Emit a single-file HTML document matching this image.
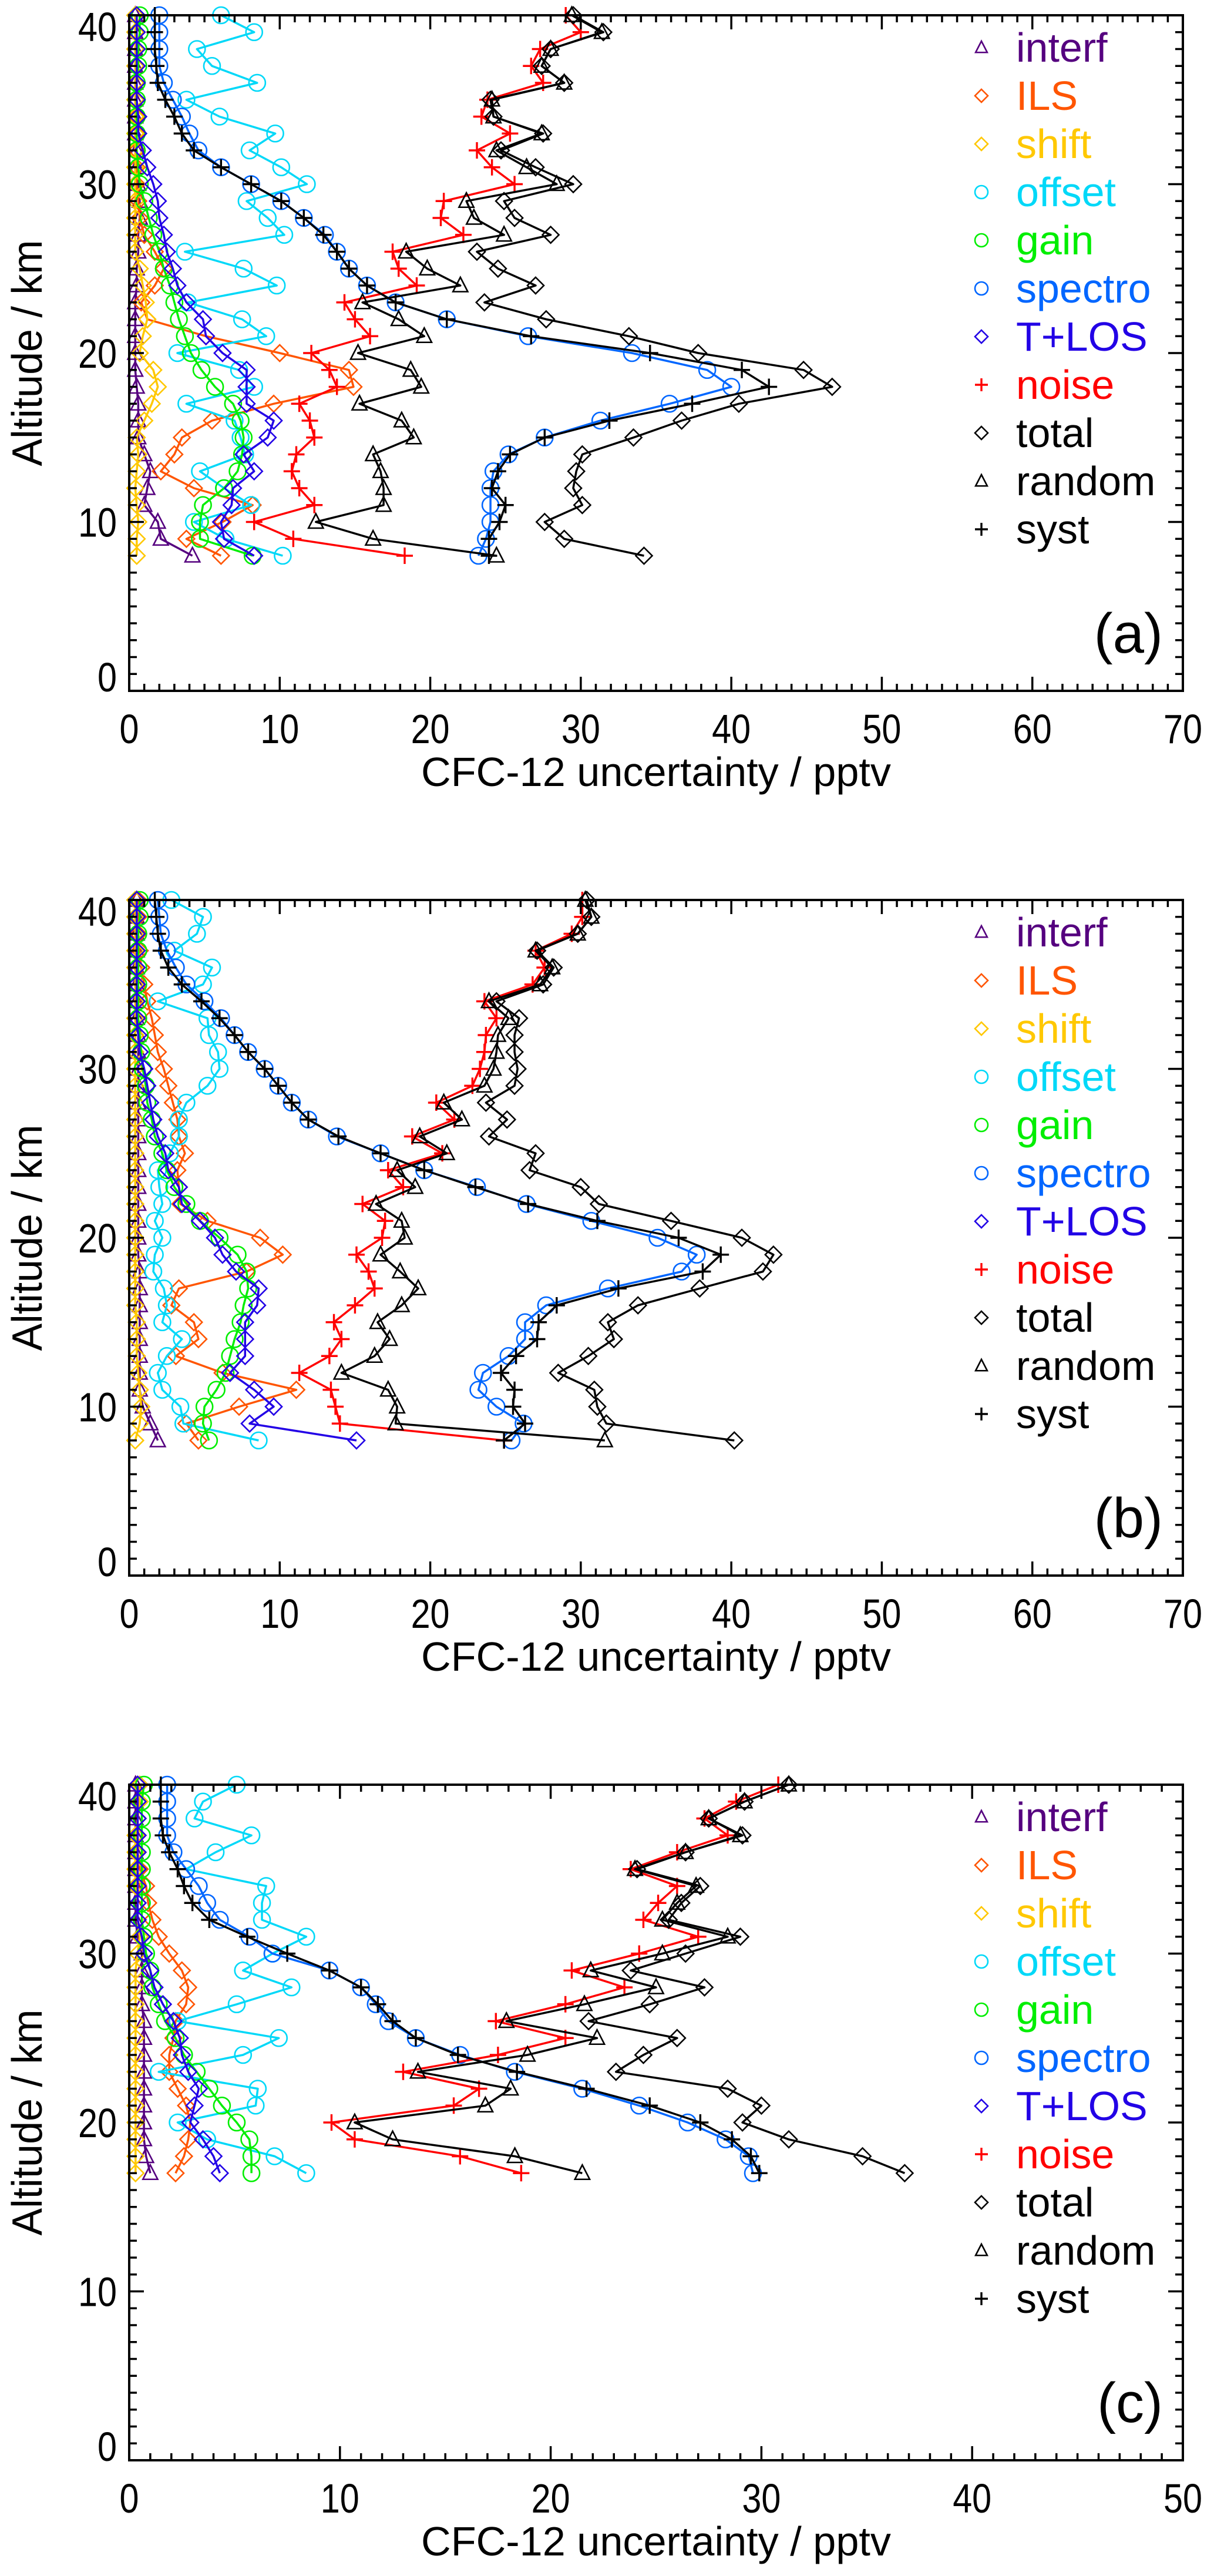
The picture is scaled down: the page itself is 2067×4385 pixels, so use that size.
<!DOCTYPE html>
<html><head><meta charset="utf-8"><title>CFC-12 uncertainty profiles</title>
<style>html,body{margin:0;padding:0;background:#fff}svg{display:block}text{font-family:"Liberation Sans",Arial,sans-serif}</style>
</head><body>
<svg id="fig" xmlns="http://www.w3.org/2000/svg" width="2067" height="4385" viewBox="0 0 2067 4385"></svg>
<script>
// ---------- data (altitude in km, uncertainty in pptv) ----------
const altA = [8,9,10,11,12,13,14,15,16,17,18,19,20,21,22,23,24,25,26,27,28,29,30,31,32,33,34,35,36,37,38,39,40];
const altB = [8,9,10,11,12,13,14,15,16,17,18,19,20,21,22,23,24,25,26,27,28,29,30,31,32,33,34,35,36,37,38,39,40];
const altC = [17,18,19,20,21,22,23,24,25,26,27,28,29,30,31,32,33,34,35,36,37,38,39,40];

const seriesNames = ["interf","ILS","shift","offset","gain","spectro","T+LOS","noise","total","random","syst"];
const xTicksA = [0,10,20,30,40,50,60,70];
const xTicksB = [0,10,20,30,40,50,60,70];
const xTicksC = [0,10,20,30,40,50];
const yTicks = [0,10,20,30,40];
const panelLabels = ["(a)","(b)","(c)"];

const a_interf = [4.2,2.1,1.9,1.0,1.2,1.4,1.0,0.6,0.6,0.6,0.5,0.4,0.4,0.4,0.4,0.4,0.5,0.5,0.6,0.6,0.7,0.7,0.6,0.5,0.5,0.4,0.4,0.4,0.4,0.4,0.4,0.4,0.4];
const a_ils = [6.1,3.8,6.2,8.2,4.3,2.1,3.0,3.5,5.5,9.6,14.9,14.6,10.0,5.1,1.2,0.8,1.7,2.3,1.7,1.0,0.7,0.6,0.5,0.5,0.5,0.5,0.5,0.5,0.5,0.5,0.5,0.5,0.5];
const a_shift = [0.5,0.5,0.6,0.5,0.4,0.5,0.6,0.5,1.0,1.5,1.9,1.6,0.7,0.9,1.2,1.1,0.9,0.7,0.4,0.4,0.4,0.4,0.4,0.4,0.4,0.4,0.4,0.4,0.4,0.4,0.4,0.4,0.4];
const a_offset = [10.2,6.4,4.3,8.1,6.3,4.7,7.7,7.4,7.0,3.8,8.3,7.3,3.2,9.1,7.5,3.9,9.8,7.6,3.7,10.3,9.2,7.8,11.8,10.1,8.0,9.7,6.0,3.8,8.5,5.5,4.5,8.3,6.1];
const a_gain = [8.2,4.7,4.7,4.9,6.3,7.2,7.5,7.6,7.4,6.9,5.7,4.8,4.1,3.7,3.3,3.0,2.7,2.3,2.0,1.6,1.3,1.0,0.7,0.6,0.5,0.5,0.5,0.5,0.5,0.6,0.6,0.7,0.7];
const a_spectro = [23.2,23.7,24.0,24.0,24.0,24.2,25.2,27.6,31.3,35.9,40.0,38.4,33.4,26.5,21.1,17.7,15.8,14.6,13.8,13.0,11.6,10.1,8.1,6.1,4.6,4.0,3.5,2.9,2.3,2.0,2.0,2.0,2.0];
const a_tlos = [8.3,6.3,6.1,6.8,6.9,8.3,7.6,9.2,9.6,7.8,7.8,7.8,6.2,5.1,4.9,3.8,3.2,2.9,2.5,2.3,2.0,1.9,1.6,1.2,0.9,0.6,0.6,0.5,0.5,0.5,0.5,0.5,0.5];
const a_noise = [18.3,10.9,8.3,12.3,11.3,10.8,11.1,12.3,12.0,11.3,13.8,13.3,12.1,16.0,15.0,14.3,19.1,17.9,17.5,22.2,20.7,20.9,25.6,24.1,23.1,25.3,23.4,23.8,27.5,26.7,27.3,30.0,29.0];
const a_total = [34.2,28.9,27.6,30.1,29.5,29.7,30.1,33.5,36.7,40.5,46.7,44.8,37.8,33.2,27.7,23.6,27.0,24.5,23.1,28.0,25.6,24.9,29.5,27.0,24.7,27.5,24.2,24.0,28.9,27.4,28.0,31.5,29.5];
const a_random = [24.4,16.2,12.4,16.9,16.9,16.7,16.2,18.9,18.1,15.3,19.4,18.7,15.2,19.6,17.9,15.5,22.0,19.8,18.4,24.9,22.9,22.4,28.4,26.4,24.4,27.4,24.2,24.1,28.9,27.4,28.0,31.4,29.4];
const a_syst = [23.9,23.9,24.6,25.0,24.1,24.5,25.3,27.6,31.9,37.4,42.5,40.7,34.6,26.7,21.1,17.7,15.8,14.6,13.8,12.9,11.6,10.1,8.1,6.1,4.3,3.5,3.0,2.4,1.9,1.8,1.7,1.7,1.7];

const b_interf = [1.9,1.4,0.9,0.7,0.7,0.7,0.7,0.7,0.7,0.7,0.7,0.6,0.6,0.6,0.6,0.6,0.6,0.6,0.6,0.6,0.6,0.6,0.6,0.6,0.6,0.5,0.5,0.5,0.5,0.5,0.5,0.5,0.5];
const b_ils = [4.6,3.8,7.3,11.1,6.2,3.1,4.6,4.3,2.8,3.3,7.8,10.2,8.7,5.2,3.4,3.3,3.2,3.7,3.3,3.2,2.9,2.6,2.3,1.9,1.7,1.5,1.2,1.0,0.8,0.7,0.6,0.6,0.6];
const b_shift = [0.4,0.7,0.8,0.7,0.6,0.5,0.5,0.5,0.4,0.4,0.4,0.4,0.4,0.4,0.4,0.4,0.4,0.4,0.4,0.4,0.4,0.4,0.4,0.4,0.4,0.4,0.4,0.4,0.4,0.4,0.4,0.4,0.4];
const b_offset = [8.6,3.6,3.4,2.2,1.9,2.5,3.5,2.2,2.5,2.3,1.6,1.7,2.2,1.7,2.2,2.0,1.9,2.7,3.3,3.3,3.8,5.2,6.0,5.9,5.3,5.2,1.9,4.9,5.5,3.0,4.5,4.9,2.8];
const b_gain = [5.3,4.9,5.0,5.8,6.4,6.7,7.0,7.4,7.6,7.9,7.8,7.2,6.0,4.7,3.8,3.0,2.5,2.2,1.7,1.5,1.2,1.1,0.9,0.8,0.7,0.6,0.6,0.6,0.6,0.6,0.6,0.7,0.7];
const b_spectro = [25.4,26.2,24.4,23.2,23.5,25.2,26.3,26.3,27.7,31.8,36.7,37.7,35.1,30.7,26.4,23.1,19.6,16.7,13.8,11.9,10.8,9.9,9.0,7.9,7.0,6.1,5.0,3.8,3.1,2.5,2.1,2.0,1.9];
const b_tlos = [15.1,8.0,9.6,8.3,6.7,7.7,7.7,7.7,8.5,8.6,7.1,6.2,5.7,4.7,3.5,3.3,2.6,2.4,1.9,1.6,1.4,1.2,1.0,0.7,0.6,0.5,0.5,0.5,0.5,0.5,0.5,0.5,0.5];
const b_noise = [24.9,14.0,13.7,13.4,11.3,13.3,14.1,13.6,15.0,16.3,15.9,15.1,16.8,17.0,15.5,18.2,17.2,20.8,18.8,21.6,20.4,22.8,23.3,23.6,23.7,24.4,23.6,26.8,27.6,27.0,29.4,30.1,30.1];
const b_total = [40.2,31.7,31.1,30.9,28.5,30.5,32.2,31.8,33.8,37.9,42.1,42.8,40.7,36.0,31.2,30.0,26.6,27.0,23.9,25.1,23.7,25.6,25.8,25.6,25.6,25.9,24.4,27.5,28.2,27.1,29.8,30.7,30.4];
const b_random = [31.6,17.7,17.8,17.2,14.1,16.3,17.3,16.5,18.1,19.2,18.0,16.7,18.3,18.1,16.4,19.0,17.8,21.1,19.3,22.1,20.9,23.6,24.2,24.4,24.5,25.2,23.9,27.3,28.1,27.0,29.8,30.7,30.3];
const b_syst = [24.9,26.3,25.5,25.6,24.7,25.7,27.1,27.2,28.4,32.5,38.1,39.3,36.5,31.1,26.5,23.0,19.6,16.7,13.9,11.9,10.8,9.9,9.0,7.9,7.0,6.0,4.8,3.5,2.6,2.1,1.9,1.8,1.7];

const c_interf = [1.0,0.8,0.7,0.7,0.7,0.7,0.7,0.7,0.7,0.7,0.6,0.6,0.6,0.6,0.4,0.3,0.3,0.3,0.3,0.3,0.3,0.3,0.3,0.3];
const c_ils = [2.2,2.6,2.8,2.9,2.7,2.3,1.9,1.9,2.1,2.2,2.7,2.8,2.5,1.9,1.4,1.1,0.9,0.8,0.5,0.4,0.4,0.4,0.4,0.4];
const c_shift = [0.3,0.3,0.3,0.3,0.3,0.3,0.3,0.3,0.3,0.3,0.3,0.3,0.3,0.4,0.5,0.4,0.4,0.3,0.3,0.3,0.3,0.4,0.5,0.5];
const c_offset = [8.4,6.9,3.7,2.3,6.0,6.1,1.4,5.4,7.1,2.3,5.1,7.7,5.4,6.8,8.4,6.3,6.3,6.5,2.7,4.1,5.8,3.1,3.5,5.1];
const c_gain = [5.8,5.8,5.7,5.1,4.4,3.8,3.2,2.6,2.2,1.7,1.4,1.1,1.0,0.8,0.7,0.6,0.6,0.6,0.6,0.6,0.6,0.6,0.6,0.7];
const c_spectro = [29.6,29.4,28.3,26.5,24.2,21.5,18.3,15.7,13.6,12.3,11.7,11.0,9.5,6.8,5.7,4.3,3.7,3.3,2.7,2.1,1.8,1.8,1.8,1.8];
const c_tlos = [4.3,4.0,3.5,2.9,3.1,3.3,2.8,2.5,2.4,2.1,1.6,1.2,1.0,0.7,0.6,0.4,0.4,0.4,0.4,0.4,0.4,0.4,0.4,0.4];
const c_noise = [18.6,15.7,10.7,9.6,15.4,16.6,13.0,17.5,20.7,17.4,20.7,23.5,21.0,24.2,27.0,24.4,25.1,26.0,23.8,26.0,28.4,27.3,28.8,30.8];
const c_total = [36.8,34.8,31.3,29.1,30.0,28.4,23.1,24.4,26.0,21.8,24.7,27.3,23.8,26.4,29.0,25.6,26.2,27.1,24.1,26.4,29.1,27.5,29.2,31.3];
const c_random = [21.5,18.3,12.5,10.7,16.9,18.1,13.7,18.9,22.2,17.9,21.6,25.0,21.9,25.3,28.4,25.3,26.0,26.9,24.0,26.4,29.0,27.5,29.2,31.3];
const c_syst = [29.9,29.5,28.6,27.1,24.7,21.7,18.4,15.6,13.6,12.5,11.8,11.0,9.5,7.5,5.6,3.8,3.0,2.6,2.3,1.9,1.6,1.5,1.5,1.5];

// ---------- styling ----------
const COLORS = {"interf":"#55007f","ILS":"#ff5500","shift":"#ffc800","offset":"#00d8f8","gain":"#00ee00","spectro":"#0066ff","T+LOS":"#2200e6","noise":"#ff0000","total":"#000","random":"#000","syst":"#000"};
const MARKERS = {"interf":"tri","ILS":"dia","shift":"dia","offset":"circ","gain":"circ","spectro":"circ","T+LOS":"dia","noise":"plus","total":"dia","random":"tri","syst":"plus"};
const NS = "http://www.w3.org/2000/svg";
const svg = document.getElementById("fig");

function mk(tag, attrs, parent) {
  const e = document.createElementNS(NS, tag);
  for (const k in attrs) e.setAttribute(k, attrs[k]);
  (parent || svg).appendChild(e);
  return e;
}
function slug(s){return s.toLowerCase().replace(/\+/g,"-").replace(/[^a-z0-9-]/g,"");}

function marker(g, type, cx, cy, col, sw, s) {
  let e;
  if (type === "circ") e = mk("circle", {cx:cx, cy:cy, r:s, fill:"none", stroke:col, "stroke-width":sw}, g);
  else if (type === "dia") e = mk("path", {d:`M${cx} ${cy-s}L${cx+s} ${cy}L${cx} ${cy+s}L${cx-s} ${cy}Z`, fill:"none", stroke:col, "stroke-width":sw}, g);
  else if (type === "tri") e = mk("path", {d:`M${cx} ${cy-s}L${cx+s*0.9} ${cy+s*0.75}L${cx-s*0.9} ${cy+s*0.75}Z`, fill:"none", stroke:col, "stroke-width":sw}, g);
  else e = mk("path", {d:`M${cx-s} ${cy}H${cx+s}M${cx} ${cy-s}V${cy+s}`, fill:"none", stroke:col, "stroke-width":sw+0.8}, g);
  return e;
}

function drawPanel(p) {
  const L = 220, R = 2014, T = p.top, B = p.top + 1150;
  const xs = v => L + (v - 0) / p.xmax * (R - L);
  const ys = v => B - v / 40 * (B - T);
  const g = mk("g", {});
  
  

  // series
  const sg = mk("g", {}, g);
  
  
  seriesNames.forEach((name, si) => {
    const vals = p.series[si];
    const col = COLORS[name];
    const pts = vals.map((v, i) => xs(v).toFixed(1) + "," + ys(p.alt[i]).toFixed(1)).join(" ");
    const line = mk("polyline", {points: pts, fill:"none", stroke:col, "stroke-width":3.5, "stroke-linejoin":"round"}, sg);
    
    
    const mg = mk("g", {}, sg);
    
    
    vals.forEach((v, i) => {
      const m = marker(mg, MARKERS[name], xs(v), ys(p.alt[i]), col, 2.6, 14);
      
      
    });
  });

  // frame
  const fr = mk("rect", {x:L, y:T, width:R-L, height:B-T, fill:"none", stroke:"#000", "stroke-width":4}, g);
  
  

  // ticks
  let d = "";
  for (let v = 0; v <= p.xmax; v++) {
    const x = xs(v), len = (v % 10 === 0) ? 24 : 12;
    d += `M${x} ${B}V${B-len}M${x} ${T}V${T+len}`;
  }
  for (let v = 0; v <= 40; v++) {
    const y = ys(v), len = (v % 10 === 0) ? 25 : 13;
    d += `M${L} ${y}H${L+len}M${R} ${y}H${R-len}`;
  }
  const tk = mk("path", {d:d, stroke:"#000", "stroke-width":3.5, fill:"none"}, g);
  
  

  p.xticks.forEach(v => {
    const s = String(v);
    const t = mk("text", {x:xs(v), y:B+89, "font-size":70, "text-anchor":"middle", textLength:33*s.length, lengthAdjust:"spacingAndGlyphs"}, g);
    t.textContent = s;
    
    
  });
  yTicks.forEach(v => {
    const s = String(v);
    const base = Math.min(Math.max(ys(v) + 25, T + 44), B + 1);
    const t = mk("text", {x:199, y:base, "font-size":70, "text-anchor":"end", textLength:33*s.length, lengthAdjust:"spacingAndGlyphs"}, g);
    t.textContent = s;
    
    
  });

  const xt = mk("text", {x:(L+R)/2, y:B+162, "font-size":70, "text-anchor":"middle", textLength:800, lengthAdjust:"spacingAndGlyphs"}, g);
  xt.textContent = "CFC-12 uncertainty / pptv";
  
  

  const cy = (T + B) / 2;
  const yt = mk("text", {x:0, y:0, "font-size":72, "text-anchor":"middle", transform:`translate(71 ${cy}) rotate(-90)`, textLength:385, lengthAdjust:"spacingAndGlyphs"}, g);
  yt.textContent = "Altitude / km";
  
  

  const pl = mk("text", {x:1980, y:T+1085, "font-size":96, "text-anchor":"end"}, g);
  pl.textContent = p.label;
  
  

  // legend
  const lg = mk("g", {}, g);
  
  
  seriesNames.forEach((name, i) => {
    const base = T + 79 + 82 * i;
    const eg = mk("g", {}, lg);
    
    
    marker(eg, MARKERS[name], 1671, base - 24, COLORS[name], 2.6, 11);
    const t = mk("text", {x:1730, y:base, "font-size":70, fill:COLORS[name], textLength: null}, eg);
    t.removeAttribute("textLength");
    t.textContent = name;
  });
}

drawPanel({id:"a", top:26, xmax:70, alt:altA, xticks:xTicksA, label:panelLabels[0],
  series:[a_interf,a_ils,a_shift,a_offset,a_gain,a_spectro,a_tlos,a_noise,a_total,a_random,a_syst]});
drawPanel({id:"b", top:1532, xmax:70, alt:altB, xticks:xTicksB, label:panelLabels[1],
  series:[b_interf,b_ils,b_shift,b_offset,b_gain,b_spectro,b_tlos,b_noise,b_total,b_random,b_syst]});
drawPanel({id:"c", top:3038, xmax:50, alt:altC, xticks:xTicksC, label:panelLabels[2],
  series:[c_interf,c_ils,c_shift,c_offset,c_gain,c_spectro,c_tlos,c_noise,c_total,c_random,c_syst]});
</script>
</body></html>
